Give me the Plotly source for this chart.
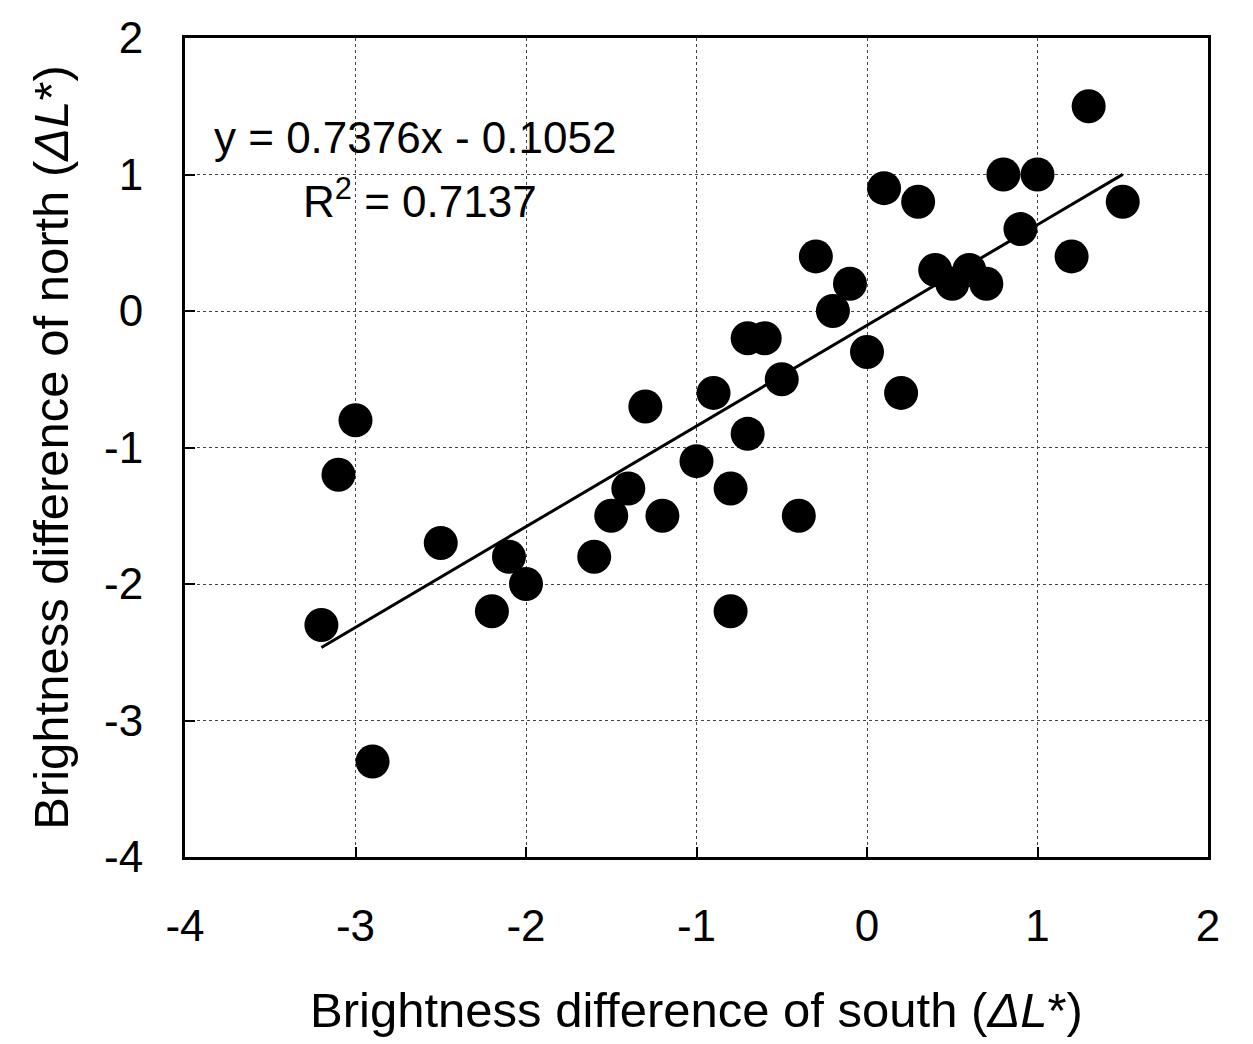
import plotly.graph_objects as go

# Data
south = [-3.2, -3.1, -3.0, -2.9, -2.5, -2.1, -2.0, -2.2, -1.6, -1.5, -1.4, -1.2, -1.3,
         -1.0, -0.8, -0.4, -0.8,
         1.3, 0.8, 1.0, 0.1, 0.3, 1.5, 0.9, -0.3, 1.2, -0.1, 0.4, 0.6, 0.5, 0.7,
         -0.2, -0.7, -0.6, 0.0, -0.5, -0.9, 0.2, -0.7]
north = [-2.3, -1.2, -0.8, -3.3, -1.7, -1.8, -2.0, -2.2, -1.8, -1.5, -1.3, -1.5, -0.7,
         -1.1, -1.3, -1.5, -2.2,
         1.5, 1.0, 1.0, 0.9, 0.8, 0.8, 0.6, 0.4, 0.4, 0.2, 0.3, 0.3, 0.2, 0.2,
         0.0, -0.2, -0.2, -0.3, -0.5, -0.6, -0.6, -0.9]

slope = 0.7376
intercept = -0.1052
r2 = 0.7137

x_ticks = [-4, -3, -2, -1, 0, 1, 2]
x_tick_labels = ["-4", "-3", "-2", "-1", "0", "1", "2"]
y_ticks = [-4, -3, -2, -1, 0, 1, 2]
y_tick_labels = ["-4", "-3", "-2", "-1", "0", "1", "2"]

fit_x = [min(south), max(south)]
fit_y = [slope * v + intercept for v in fit_x]

font_family = "Liberation Sans, Arial, sans-serif"

fig = go.Figure()
fig.add_trace(go.Scatter(x=south, y=north, mode="markers",
                         marker=dict(size=34, color="black", line=dict(width=0)),
                         showlegend=False, cliponaxis=False))
fig.add_trace(go.Scatter(x=fit_x, y=fit_y, mode="lines",
                         line=dict(color="black", width=3), showlegend=False))

fig.add_annotation(x=0.026, y=0.879, xref="paper", yref="paper", xanchor="left", yanchor="middle",
                   text=f"y = {slope}x - {abs(intercept)}", showarrow=False,
                   font=dict(size=44, color="black", family=font_family))
fig.add_annotation(x=0.113, y=0.804, xref="paper", yref="paper", xanchor="left", yanchor="middle",
                   text=f"R<sup>2</sup> = {r2}", showarrow=False,
                   font=dict(size=44, color="black", family=font_family))

axis_common = dict(
    showline=True, linecolor="black", linewidth=3, mirror=True,
    showgrid=True, gridcolor="#444", gridwidth=1, griddash="dot",
    zeroline=False, ticks="inside", ticklen=10, tickcolor="black", tickwidth=2,
    tickfont=dict(size=44, color="black", family=font_family),
    automargin=False,
)

fig.update_xaxes(range=[-4, 2], tickvals=x_ticks, ticktext=x_tick_labels, ticklabelstandoff=28,
                 title=dict(text="Brightness difference of south (<i>ΔL</i>*)",
                            font=dict(size=49, color="black", family=font_family), standoff=44),
                 **axis_common)
fig.update_yaxes(range=[-4, 2], tickvals=y_ticks, ticktext=y_tick_labels, ticklabelstandoff=30,
                 title=dict(text="Brightness difference of north (<i>ΔL</i>*)",
                            font=dict(size=49, color="black", family=font_family), standoff=20),
                 **axis_common)

fig.update_layout(width=1253, height=1044,
                  margin=dict(l=177, r=53, t=30, b=195),
                  plot_bgcolor="white", paper_bgcolor="white",
                  font=dict(family=font_family, color="black"))

fig.write_html("out.html")
